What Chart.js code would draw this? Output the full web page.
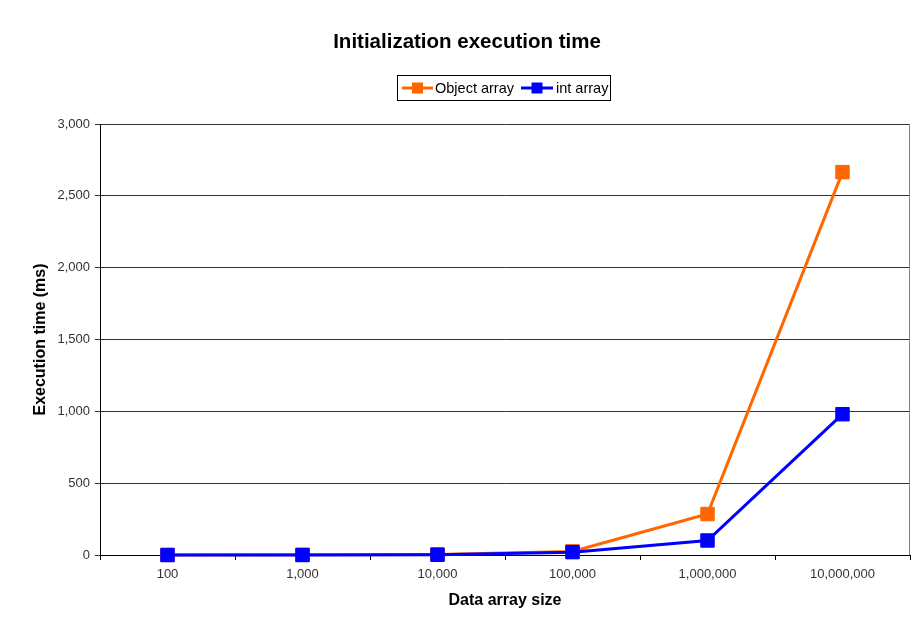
<!DOCTYPE html>
<html>
<head>
<meta charset="utf-8">
<title>Initialization execution time</title>
<script src="https://cdn.jsdelivr.net/npm/chart.js@4.4.1/dist/chart.umd.min.js"></script>
<style>
  html, body { margin: 0; padding: 0; background: #ffffff; }
  #wrap { width: 912px; height: 626px; }
</style>
</head>
<body>
<div id="wrap"><canvas id="chart" width="912" height="626"></canvas></div>
<script>
// Array sizes tested (category axis)
const arraySizes = ['100', '1,000', '10,000', '100,000', '1,000,000', '10,000,000'];
// Initialization time in milliseconds for each array size
const objectArrayMs = [0, 1, 4, 25, 285, 2665];
const intArrayMs = [0, 0, 2, 20, 101, 980];
// Value axis range
const yMin = 0;
const yMax = 3000;
const yStep = 500;

const seriesNames = ['Object array', 'int array'];
const seriesColors = ['#ff6600', '#0000ff'];

const FONT = 'Liberation Sans, Arial, Helvetica, sans-serif';

// Title, legend box and plot frame drawn on the canvas
const decorations = {
  id: 'decorations',
  beforeDraw(chart) {
    const ctx = chart.ctx;
    ctx.save();
    ctx.fillStyle = '#ffffff';
    ctx.fillRect(0, 0, chart.width, chart.height);
    ctx.restore();
  },
  beforeDatasetsDraw(chart) {
    const { ctx, chartArea } = chart;
    ctx.save();
    ctx.strokeStyle = '#808080';
    ctx.lineWidth = 1;
    ctx.beginPath();
    ctx.moveTo(Math.round(chartArea.right) - 0.5, chartArea.top);
    ctx.lineTo(Math.round(chartArea.right) - 0.5, chartArea.bottom);
    ctx.stroke();
    ctx.restore();
  },
  afterDraw(chart) {
    const ctx = chart.ctx;
    ctx.save();
    // chart title
    ctx.fillStyle = '#000000';
    ctx.font = 'bold 20.5px ' + FONT;
    ctx.textAlign = 'center';
    ctx.textBaseline = 'alphabetic';
    ctx.fillText('Initialization execution time', 467, 48);

    // legend box
    const box = { x: 397.5, y: 75.5, w: 213, h: 25 };
    ctx.fillStyle = '#ffffff';
    ctx.fillRect(box.x, box.y, box.w, box.h);
    ctx.strokeStyle = '#000000';
    ctx.lineWidth = 1;
    ctx.strokeRect(box.x, box.y, box.w, box.h);

    const items = [
      { x0: 402, x1: 433, tx: 435 },
      { x0: 521, x1: 553, tx: 556 }
    ];
    const cy = 88;
    ctx.font = '14.5px ' + FONT;
    ctx.textAlign = 'left';
    ctx.textBaseline = 'middle';
    items.forEach((it, i) => {
      const c = seriesColors[i];
      ctx.strokeStyle = c;
      ctx.lineWidth = 3;
      ctx.beginPath();
      ctx.moveTo(it.x0, cy);
      ctx.lineTo(it.x1, cy);
      ctx.stroke();
      ctx.fillStyle = c;
      const mx = (it.x0 + it.x1) / 2;
      ctx.fillRect(mx - 5.5, cy - 5.5, 11, 11);
      ctx.fillStyle = '#000000';
      ctx.fillText(seriesNames[i], it.tx, cy + 1);
    });
    ctx.restore();
  }
};

const ctx = document.getElementById('chart').getContext('2d');
new Chart(ctx, {
  type: 'line',
  data: {
    labels: arraySizes,
    datasets: [
      {
        label: seriesNames[0],
        data: objectArrayMs,
        borderColor: seriesColors[0],
        backgroundColor: seriesColors[0],
        borderWidth: 3,
        pointStyle: 'rect',
        pointRadius: 9.5,
        pointBorderWidth: 1,
        pointBorderColor: seriesColors[0],
        pointBackgroundColor: seriesColors[0],
        tension: 0,
        clip: false,
        order: 2
      },
      {
        label: seriesNames[1],
        data: intArrayMs,
        borderColor: seriesColors[1],
        backgroundColor: seriesColors[1],
        borderWidth: 3,
        pointStyle: 'rect',
        pointRadius: 9.5,
        pointBorderWidth: 1,
        pointBorderColor: seriesColors[1],
        pointBackgroundColor: seriesColors[1],
        tension: 0,
        clip: false,
        order: 1
      }
    ]
  },
  options: {
    responsive: false,
    animation: false,
    events: [],
    layout: {
      autoPadding: false,
      padding: { top: 124, right: 2, bottom: 0, left: 0 }
    },
    plugins: {
      legend: { display: false },
      title: { display: false },
      tooltip: { enabled: false }
    },
    scales: {
      x: {
        type: 'category',
        offset: true,
        grid: {
          offset: true,
          drawOnChartArea: false,
          drawTicks: true,
          tickLength: 5,
          color: '#000000'
        },
        border: { display: true, color: '#000000', width: 1 },
        ticks: {
          color: '#333333',
          font: { family: FONT, size: 13 },
          padding: 7,
          maxRotation: 0,
          autoSkip: false
        },
        title: {
          display: true,
          text: 'Data array size',
          color: '#000000',
          font: { family: FONT, size: 16, weight: 'bold' },
          padding: { top: 0, bottom: 16 }
        },
        afterFit(scale) {
          scale.height = 71;
          scale.paddingLeft = 0;
          scale.paddingRight = 0;
        }
      },
      y: {
        min: yMin,
        max: yMax,
        ticks: {
          stepSize: yStep,
          color: '#333333',
          font: { family: FONT, size: 13 },
          padding: 5,
          callback: (v) => Number(v).toLocaleString('en-US')
        },
        grid: {
          color: '#333333',
          lineWidth: 1,
          tickLength: 5,
          drawTicks: true
        },
        border: { display: true, color: '#000000', width: 1 },
        title: {
          display: true,
          text: 'Execution time (ms)',
          color: '#000000',
          font: { family: FONT, size: 16, weight: 'bold' },
          padding: { top: 31, bottom: 0 }
        },
        afterFit(scale) { scale.width = 100; }
      }
    }
  },
  plugins: [decorations]
});
</script>
</body>
</html>
